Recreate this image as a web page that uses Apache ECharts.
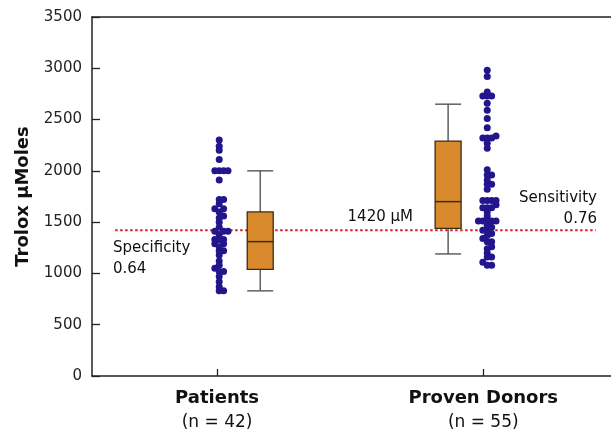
<!DOCTYPE html>
<html>
<head>
<meta charset="utf-8">
<script src="https://cdn.jsdelivr.net/npm/echarts@6/dist/echarts.min.js"></script>
<style>html,body{margin:0;padding:0;background:#fff;}#c{width:611px;height:437px;}</style>
</head>
<body>
<div id="c"></div>
<script>
// ---- data ----
const categories = ['Patients', 'Proven Donors'];
const groupSizes = ['(n = 42)', '(n = 55)'];
const yTicks = [0, 500, 1000, 1500, 2000, 2500, 3000, 3500];
const patientsValues = [2300, 2240, 2200, 2110, 2000, 2000, 2000, 2000, 1910, 1720, 1720, 1680,
  1630, 1630, 1600, 1560, 1540, 1500, 1450, 1410, 1410, 1410, 1380, 1330, 1330, 1330, 1290, 1290,
  1260, 1220, 1220, 1180, 1120, 1080, 1050, 1020, 1020, 970, 920, 870, 830, 830];
const donorsValues = [2980, 2920, 2770, 2730, 2730, 2730, 2660, 2590, 2510, 2420, 2340, 2320, 2320,
  2320, 2270, 2220, 2010, 1960, 1960, 1910, 1870, 1870, 1820, 1710, 1710, 1710, 1710, 1670, 1640,
  1640, 1640, 1600, 1560, 1510, 1510, 1510, 1510, 1510, 1470, 1450, 1420, 1420, 1390, 1370, 1340,
  1310, 1310, 1260, 1240, 1200, 1160, 1160, 1110, 1080, 1080];
// box stats: [min, q1, median, q3, max]
const patientsBox = [830, 1040, 1310, 1600, 2000];
const donorsBox = [1190, 1440, 1700, 2290, 2650];
const cutoff = 1420;

// ---- layout ----
const GRID = {left: 92, right: 0, top: 17, bottom: 61};
const H = 437 - GRID.top - GRID.bottom;
const pxPerUnit = H / 3500;
const catPos = [1, 2];            // x-axis positions of categories
const dotPos = [1.008, 2.015];    // dot columns
const boxPos = [1.162, 1.868];    // boxes
const FONT = 'DejaVu Sans';

function swarm(values, step, minDist) {
  const order = values.map((v, i) => i).sort((a, b) => values[a] - values[b]);
  const placed = [];
  const offs = new Array(values.length);
  for (const i of order) {
    const y = values[i] * pxPerUnit;
    for (let k = 0; ; k++) {
      const dx = k === 0 ? 0 : (k % 2 ? 1 : -1) * Math.ceil(k / 2) * step;
      if (placed.every(p => Math.hypot(p.x - dx, p.y - y) >= minDist)) {
        placed.push({x: dx, y});
        offs[i] = dx;
        break;
      }
    }
  }
  return offs;
}
function dots(values, x) {
  const offs = swarm(values, 4.4, 3.5);
  return values.map((v, i) => ({value: [x, v], symbolOffset: [offs[i], 0]}));
}

const chart = echarts.init(document.getElementById('c'), null, {renderer: 'canvas'});
const option = {
  animation: false,
  grid: GRID,
  xAxis: [{
    type: 'value', min: 0.53, max: 2.48,
    splitLine: {show: false},
    axisLine: {lineStyle: {color: '#222', width: 1.5}},
    axisTick: {show: true, inside: true, length: 7, customValues: catPos, lineStyle: {color: '#222', width: 1.3}},
    axisLabel: {
      customValues: catPos, margin: 9,
      formatter: v => {
        const i = catPos.indexOf(Math.round(v));
        return '{a|' + categories[i] + '}\n{b|' + groupSizes[i] + '}';
      },
      rich: {
        a: {fontFamily: FONT, fontWeight: 'bold', fontSize: 18, color: '#111', lineHeight: 26},
        b: {fontFamily: FONT, fontSize: 17, color: '#111', lineHeight: 24}
      }
    }
  }, {
    type: 'value', position: 'top', min: 0.53, max: 2.48,
    axisLine: {show: true, lineStyle: {color: '#222', width: 1.5}},
    axisTick: {show: false}, axisLabel: {show: false}, splitLine: {show: false}
  }],
  yAxis: {
    type: 'value', min: 0, max: 3500, interval: 500,
    name: 'Trolox μMoles', nameLocation: 'middle', nameGap: 60, nameRotate: 90,
    nameTextStyle: {fontFamily: FONT, fontWeight: 'bold', fontSize: 18, color: '#111'},
    splitLine: {show: false},
    axisLine: {show: true, lineStyle: {color: '#222', width: 1.5}},
    axisTick: {show: true, inside: true, length: 8, lineStyle: {color: '#222', width: 1.3}},
    axisLabel: {fontFamily: FONT, fontSize: 15, color: '#222', margin: 10,
      customValues: yTicks, formatter: v => String(v)}
  },
  series: [
    {
      type: 'line', data: [[0.617, cutoff], [2.423, cutoff]], symbol: 'none',
      lineStyle: {color: '#d9201e', width: 2, type: [2.5, 2.5]}, z: 1, silent: true
    },
    {
      type: 'custom', z: 3,
      data: [[boxPos[0], ...patientsBox], [boxPos[1], ...donorsBox]],
      encode: {x: 0, y: [1, 2, 3, 4, 5]},
      renderItem: function (params, api) {
        const x = api.value(0);
        const p = [1, 2, 3, 4, 5].map(k => api.coord([x, api.value(k)]));
        const cx = p[0][0], hw = 13;
        const wStyle = {stroke: '#555', lineWidth: 1.4};
        return {
          type: 'group',
          children: [
            {type: 'line', shape: {x1: cx, y1: p[4][1], x2: cx, y2: p[3][1]}, style: wStyle},
            {type: 'line', shape: {x1: cx, y1: p[1][1], x2: cx, y2: p[0][1]}, style: wStyle},
            {type: 'line', shape: {x1: cx - hw, y1: p[4][1], x2: cx + hw, y2: p[4][1]}, style: wStyle},
            {type: 'line', shape: {x1: cx - hw, y1: p[0][1], x2: cx + hw, y2: p[0][1]}, style: wStyle},
            {type: 'rect', shape: {x: cx - hw, y: p[3][1], width: 2 * hw, height: p[1][1] - p[3][1]},
              style: {fill: '#d98a2c', stroke: '#3d2a18', lineWidth: 1.3}},
            {type: 'line', shape: {x1: cx - hw, y1: p[2][1], x2: cx + hw, y2: p[2][1]},
              style: {stroke: '#3d2a18', lineWidth: 1.5}}
          ]
        };
      }
    },
    {
      type: 'scatter', symbol: 'circle', symbolSize: 7, z: 4,
      itemStyle: {color: '#23168c', opacity: 1},
      data: dots(patientsValues, dotPos[0])
    },
    {
      type: 'scatter', symbol: 'circle', symbolSize: 7, z: 4,
      itemStyle: {color: '#23168c', opacity: 1},
      data: dots(donorsValues, dotPos[1])
    }
  ],
  graphic: [
    {type: 'text', left: 113, top: 238, style: {text: 'Specificity\n0.64', font: '15px "DejaVu Sans"', fill: '#111', lineHeight: 21}},
    {type: 'text', right: 611 - 413, top: 210, style: {text: '1420 μM', font: '15px "DejaVu Sans"', fill: '#111', textAlign: 'right'}},
    {type: 'text', right: 14, top: 188, style: {text: 'Sensitivity\n0.76', font: '15px "DejaVu Sans"', fill: '#111', textAlign: 'right', lineHeight: 21}}
  ]
};
chart.setOption(option);
</script>
</body>
</html>
